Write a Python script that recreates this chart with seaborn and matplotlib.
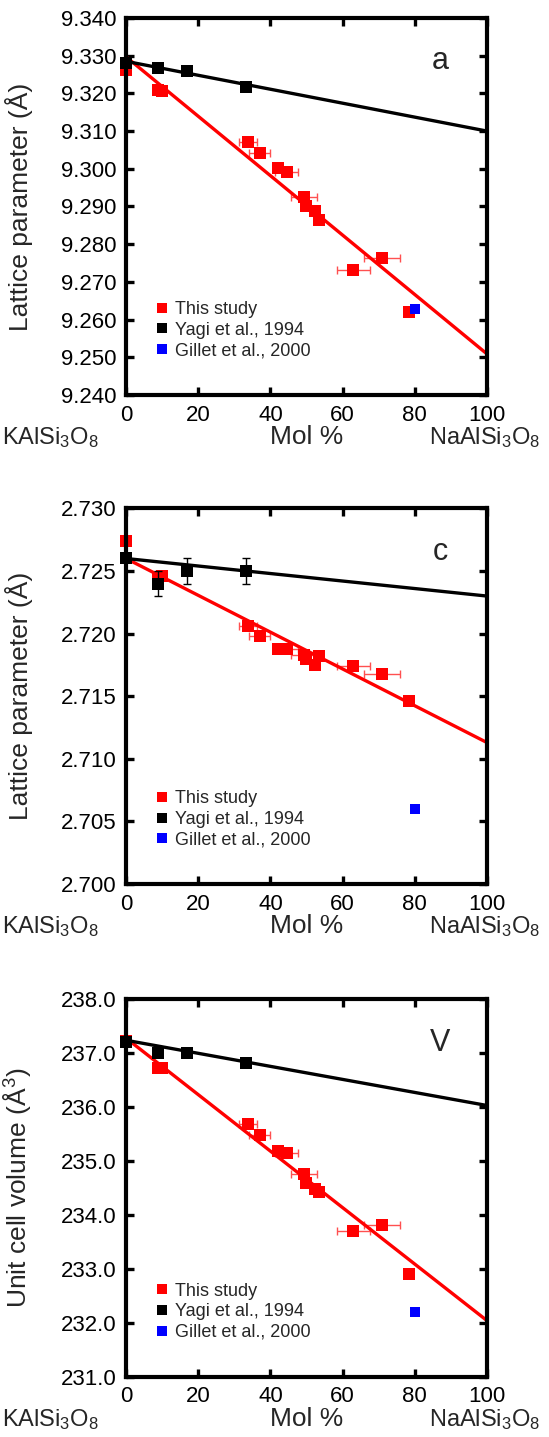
import matplotlib
matplotlib.use("Agg")
import matplotlib.pyplot as plt
import numpy as np
import pandas as pd
import seaborn as sns
from matplotlib.lines import Line2D
from matplotlib.ticker import MultipleLocator, FormatStrFormatter

# -------------------------------- Data --------------------------------
# composition (mol % NaAlSi3O8)
mol_this = [0, 9, 10, 33.7, 37.0, 42.0, 44.5, 49.3, 50.0, 52.4, 53.5, 63.0, 70.8, 78.5]
mol_err_this = [0, 0, 0, 2.5, 2.8, 0, 3.2, 3.5, 0, 0, 0, 4.5, 5.0, 0]
mol_yagi = [0, 9, 17, 33.3]
mol_gillet = [80]

# a axis (A)
a_this = [9.3262, 9.3208, 9.3206, 9.3072, 9.3043, 9.3001, 9.2992, 9.2926,
          9.2900, 9.2888, 9.2864, 9.2732, 9.2764, 9.2621]
a_yagi = [9.3280, 9.3267, 9.3260, 9.3218]
a_gillet = [9.2627]

# c axis (A)
c_this = [2.7274, 2.7244, 2.7246, 2.7206, 2.7198, 2.7188, 2.7188, 2.7183,
          2.7180, 2.7175, 2.7182, 2.7174, 2.7168, 2.7146]
c_yagi = [2.7260, 2.7240, 2.7250, 2.7250]
c_yagi_err = [0, 0.001, 0.001, 0.001]
c_gillet = [2.7060]

# unit cell volume (A^3)
v_this = [237.23, 236.72, 236.72, 235.69, 235.48, 235.19, 235.14, 234.76,
          234.60, 234.49, 234.42, 233.70, 233.81, 232.90]
v_yagi = [237.21, 237.00, 237.00, 236.81]
v_gillet = [232.19]

# linear fits: (intercept, slope)
fit_a_this = (9.3297, -0.000788)
fit_a_yagi = (9.3285, -0.000185)
fit_c_this = (2.7260, -0.000147)
fit_c_yagi = (2.7260, -0.000030)
fit_v_this = (237.28, -0.0524)
fit_v_yagi = (237.24, -0.0121)

labels = ["This study", "Yagi et al., 1994", "Gillet et al., 2000"]
colors = ["#ff0000", "#000000", "#0000ff"]

# -------------------------------- Style --------------------------------
sns.set_theme(style="ticks")
plt.rcParams["font.family"] = ["Liberation Sans", "DejaVu Sans"]
plt.rcParams["mathtext.fontset"] = "custom"
plt.rcParams["mathtext.rm"] = "Liberation Sans"
plt.rcParams["mathtext.default"] = "regular"

fig = plt.figure(figsize=(5.49, 14.37), dpi=100)
ax1 = fig.add_axes([0.2295, 0.7251, 0.6575, 0.2624])
ax2 = fig.add_axes([0.2295, 0.3848, 0.6575, 0.2614])
ax3 = fig.add_axes([0.2295, 0.0420, 0.6575, 0.2626])


def draw_panel(ax, y_this, y_yagi, y_gillet, fit_this, fit_yagi,
               ylim, ystep, fmt, ylabel, letter, yagi_err=None):
    # this study, with composition error bars
    ax.errorbar(mol_this, y_this, xerr=mol_err_this, fmt="none",
                ecolor="#ff5050", elinewidth=1, capsize=2.6, capthick=1, zorder=2)
    sns.scatterplot(x=mol_this, y=y_this, ax=ax, color=colors[0], marker="s",
                    s=70, linewidth=0, zorder=3, clip_on=False)

    # fitted lines
    xfit = np.array([0, 100])
    sns.lineplot(x=xfit, y=np.polyval(fit_this[::-1], xfit), ax=ax,
                 color=colors[0], linewidth=2.4, zorder=4)
    sns.lineplot(x=xfit, y=np.polyval(fit_yagi[::-1], xfit), ax=ax,
                 color=colors[1], linewidth=2.4, zorder=4)

    # Yagi et al.
    if yagi_err is not None:
        ax.errorbar(mol_yagi, y_yagi, yerr=yagi_err, fmt="none", ecolor="black",
                    elinewidth=1, capsize=3, capthick=1, zorder=5)
    sns.scatterplot(x=mol_yagi, y=y_yagi, ax=ax, color=colors[1], marker="s",
                    s=68, linewidth=0, zorder=6, clip_on=False)

    # Gillet et al.
    sns.scatterplot(x=mol_gillet, y=y_gillet, ax=ax, color=colors[2], marker="s",
                    s=56, linewidth=0, zorder=7)

    ax.set_xlim(0, 100)
    ax.set_ylim(*ylim)
    ax.xaxis.set_major_locator(MultipleLocator(20))
    ax.yaxis.set_major_locator(MultipleLocator(ystep))
    ax.yaxis.set_major_formatter(FormatStrFormatter(fmt))
    ax.tick_params(direction="in", length=6, width=2.4, labelsize=16, pad=7,
                   top=True, right=True, colors="black")
    for sp in ax.spines.values():
        sp.set_linewidth(3)
        sp.set_color("black")
        sp.set_zorder(10)

    ax.set_ylabel(ylabel, fontsize=19)
    ax.yaxis.set_label_coords(-0.258, 0.5)
    ax.set_xlabel("Mol %", fontsize=19, va="baseline")
    ax.xaxis.set_label_coords(0.5, -0.13)
    ax.text(-0.343, -0.13, "KAlSi$_3$O$_8$", transform=ax.transAxes,
            fontsize=17, ha="left", va="baseline")
    ax.text(0.994, -0.13, "NaAlSi$_3$O$_8$", transform=ax.transAxes,
            fontsize=17, ha="center", va="baseline")
    ax.text(0.87, 0.885, letter, transform=ax.transAxes, fontsize=22,
            ha="center", va="center")

    handles = [Line2D([], [], marker="s", linestyle="none", markersize=7.7,
                      markerfacecolor=c, markeredgewidth=0) for c in colors]
    ax.legend(handles, labels, loc="center left", bbox_to_anchor=(0.079, 0.172),
              frameon=False, fontsize=13, handlelength=0.8, handletextpad=0.35,
              labelspacing=0.2, borderpad=0, borderaxespad=0)


draw_panel(ax1, a_this, a_yagi, a_gillet, fit_a_this, fit_a_yagi,
           (9.240, 9.340), 0.010, "%.3f", "Lattice parameter (Å)", "a")
draw_panel(ax2, c_this, c_yagi, c_gillet, fit_c_this, fit_c_yagi,
           (2.700, 2.730), 0.005, "%.3f", "Lattice parameter (Å)", "c",
           yagi_err=c_yagi_err)
draw_panel(ax3, v_this, v_yagi, v_gillet, fit_v_this, fit_v_yagi,
           (231.0, 238.0), 1.0, "%.1f", "Unit cell volume (Å$^3$)", "V")

fig.savefig("out.png", dpi=100)
